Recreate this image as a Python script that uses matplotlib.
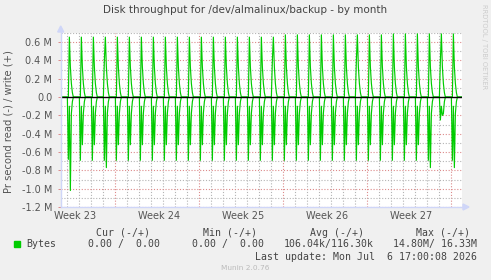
import numpy as np
import matplotlib
matplotlib.use("Agg")
import matplotlib.pyplot as plt
from matplotlib.patches import Polygon, Rectangle
from matplotlib.lines import Line2D

# days counted from Monday Jun 1 2026 00:00 (start of week 23)
days = list(range(3, 36))

# write (+), in M bytes/s: value 2h after midnight (pre) and the peak 4h after midnight
write_pre = [0, 0, 0, 0.40, 0, 0, 0, 0, 0, 0, 0, 0, 0, 0, 0, 0, 0, 0.40, 0, 0, 0, 0, 0, 0,
             0.40, 0, 0, 0, 0, 0, 0, 0.40, 0]
write_peak = [0.655, 0.655, 0.655, 0.655, 0.655, 0.655, 0.655, 0.655, 0.655, 0.655, 0.655,
              0.655, 0.655, 0.655, 0.655, 0.655, 0.655, 0.655, 0.68, 0.68, 0.68, 0.68, 0.68,
              0.68, 0.68, 0.68, 0.68, 0.69, 0.69, 0.69, 0.69, 0.69, 0.69]
write_tail = [0.33, 0.15, 0.05]

# read (-), in M bytes/s: dip right after midnight, short pause, second dip
read_first = [-0.68, -0.69, -0.69, -0.69, -0.69, -0.69, -0.69, -0.69, -0.69, -0.69, -0.69,
              -0.69, -0.69, -0.69, -0.69, -0.69, -0.69, -0.69, -0.69, -0.69, -0.69, -0.69,
              -0.69, -0.69, -0.69, -0.69, -0.69, -0.69, -0.69, -0.69, -0.69, -0.25, -0.69]
read_mid = [-0.10] * 33
read_second = [-1.02, -0.52, -0.52, -0.77, -0.52, -0.52, -0.52, -0.52, -0.52, -0.52, -0.52,
               -0.52, -0.52, -0.52, -0.52, -0.52, -0.52, -0.52, -0.52, -0.52, -0.52, -0.52,
               -0.52, -0.52, -0.52, -0.52, -0.52, -0.52, -0.52, -0.52, -0.77, -0.20, -0.77]
read_tail = [-0.18, -0.05]

week_labels = ["Week 23", "Week 24", "Week 25", "Week 26", "Week 27"]
week_label_pos = [3.64, 10.64, 17.64, 24.64, 31.64]
mondays = [7, 14, 21, 28, 35]

y_ticks = [0.6, 0.4, 0.2, 0.0, -0.2, -0.4, -0.6, -0.8, -1.0, -1.2]
y_tick_labels = ["0.6 M", "0.4 M", "0.2 M", "0.0", "-0.2 M", "-0.4 M", "-0.6 M",
                 "-0.8 M", "-1.0 M", "-1.2 M"]

# build the 2-hour series (12 samples a day)
t, w, r = [], [], []
for i, d in enumerate(days):
    wd = [0, write_pre[i], write_peak[i]] + write_tail + [0] * 6
    rd = [0, read_first[i], read_mid[i], read_second[i]] + read_tail + [0] * 6
    for k in range(12):
        t.append(d + k / 12 + 0.03)
        w.append(wd[k])
        r.append(rd[k])
t = [2.4] + t + [36.0]
w = [0] + w + [0]
r = [0] + r + [0]

W, H = 491, 280
fig = plt.figure(figsize=(W / 100, H / 100), dpi=100, facecolor="#F0F0F0")

def fx(x):
    return x / W

def fy(y):
    return 1 - y / H

left, right, top, bottom = 60.7, 461.7, 33.0, 207.0
ax = fig.add_axes([fx(left), fy(bottom), (right - left) / W, (bottom - top) / H])
ax.set_facecolor("white")
ax.set_xlim(2.475, 35.89)
ax.set_ylim(-1.2, 0.7)
for s in ax.spines.values():
    s.set_visible(False)

grey = "#b4b4b4"
red = "#dc8a8a"
dots = (0, (1, 1.6))
for d in range(3, 36):
    if d not in mondays:
        ax.axvline(d, color=grey, lw=0.8, ls=dots, zorder=1)
for d in mondays:
    ax.axvline(d, color=red, lw=0.8, ls=dots, zorder=1)
for k in range(-12, 8):
    yv = k / 10
    col = red if k % 2 == 0 else grey
    ax.axhline(yv, color=col, lw=0.8, ls=dots, zorder=1)

green = "#00CC00"
ax.plot(t, w, color=green, lw=0.85, zorder=3)
ax.plot(t, r, color=green, lw=0.85, zorder=3)
ax.axhline(0, color="black", lw=1.0, zorder=4)

ax.set_yticks(y_ticks)
ax.set_yticklabels(y_tick_labels)
ax.tick_params(axis="y", length=2, width=0.7, color=red, labelsize=7,
               labelcolor="#555555", pad=4)
ax.set_xticks(week_label_pos)
ax.set_xticklabels(week_labels)
ax.tick_params(axis="x", length=0, labelsize=7, labelcolor="#555555", pad=3)

# axes lines with arrows
axis_col = "#CFD6F8"
fig.add_artist(Line2D([fx(left), fx(left)], [fy(bottom), fy(29)], color=axis_col, lw=1,
                      transform=fig.transFigure))
fig.add_artist(Line2D([fx(left), fx(465)], [fy(bottom), fy(bottom)], color=axis_col, lw=1,
                      transform=fig.transFigure))
fig.add_artist(Polygon([[fx(left - 3), fy(32)], [fx(left + 3), fy(32)], [fx(left), fy(26)]],
                       closed=True, color=axis_col, transform=fig.transFigure))
fig.add_artist(Polygon([[fx(463), fy(bottom - 3)], [fx(463), fy(bottom + 3)], [fx(469), fy(bottom)]],
                       closed=True, color=axis_col, transform=fig.transFigure))

fig.text(fx(245), fy(10), "Disk throughput for /dev/almalinux/backup - by month",
         ha="center", va="center", fontsize=7.5, color="#444444")
fig.text(fx(9), fy(122), "Pr second read (-) / write (+)", rotation=90,
         ha="center", va="center", fontsize=7.2, color="#555555")
fig.text(fx(484), fy(4), "RRDTOOL / TOBI OETIKER", rotation=270, ha="center", va="top",
         fontsize=4.8, color="#cccccc")

mono = dict(family="DejaVu Sans Mono", fontsize=7.1, color="#444444", va="center")
fig.text(fx(123.3), fy(232.7), "Cur (-/+)", ha="center", **mono)
fig.text(fx(230), fy(232.7), "Min (-/+)", ha="center", **mono)
fig.text(fx(337), fy(232.7), "Avg (-/+)", ha="center", **mono)
fig.text(fx(443), fy(232.7), "Max (-/+)", ha="center", **mono)
fig.add_artist(Rectangle((fx(14), fy(247)), 6 / W, 6 / H, color=green,
                         transform=fig.transFigure))
fig.text(fx(26.7), fy(244.3), "Bytes", ha="left", **mono)
fig.text(fx(88.3), fy(244.3), "0.00 /  0.00", ha="left", **mono)
fig.text(fx(192.3), fy(244.3), "0.00 /  0.00", ha="left", **mono)
fig.text(fx(283.3), fy(244.3), "106.04k/116.30k", ha="left", **mono)
fig.text(fx(393.3), fy(244.3), "14.80M/ 16.33M", ha="left", **mono)
fig.text(fx(476.7), fy(256.7), "Last update: Mon Jul  6 17:00:08 2026", ha="right", **mono)
fig.text(fx(245), fy(268.3), "Munin 2.0.76", ha="center", va="center", fontsize=5.3,
         color="#bbbbbb")

fig.savefig("out.png", dpi=100, facecolor=fig.get_facecolor())
